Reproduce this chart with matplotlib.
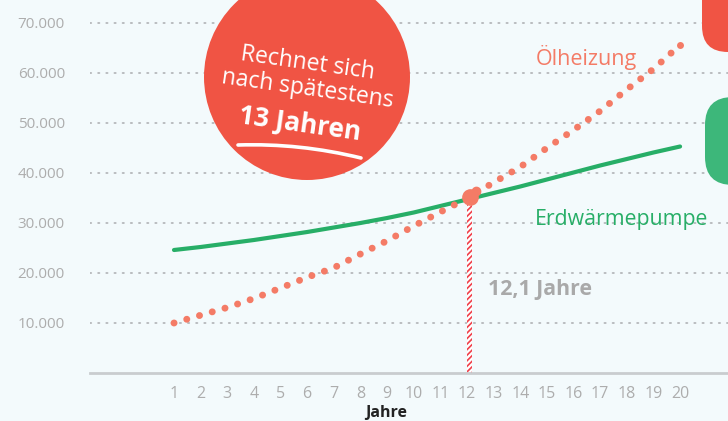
import matplotlib
matplotlib.use("Agg")
import matplotlib.pyplot as plt
from matplotlib.patches import Circle, FancyBboxPatch, Rectangle, PathPatch
from matplotlib.transforms import IdentityTransform
from matplotlib.path import Path

plt.rcParams['font.family'] = ['Open Sans', 'DejaVu Sans']
plt.rcParams['hatch.color'] = "#f0404a"
plt.rcParams['hatch.linewidth'] = 1.2

years = list(range(1, 21))
oil = [10000, 11560, 13100, 14900, 17000, 19140, 21040, 23800, 26440, 29400,
       32200, 34900, 38100, 41200, 45000, 48600, 52400, 56700, 60800, 65600]
heatpump = [24600, 25200, 25900, 26600, 27400, 28200, 29100, 30000, 31000, 32100,
            33400, 34700, 36000, 37300, 38700, 40100, 41500, 42800, 44100, 45300]
yticks = [10000, 20000, 30000, 40000, 50000, 60000, 70000]
ytick_labels = ["10.000", "20.000", "30.000", "40.000", "50.000", "60.000", "70.000"]
break_even_year = 12.1
break_even_value = 35200

BG = "#f3fafc"
RED = "#f05444"
OIL = "#f47b66"
GREEN = "#27ae67"
GRID = "#b9bcbf"
TICK = "#adadad"

W, H = 728, 421
fig = plt.figure(figsize=(W / 100, H / 100), dpi=100, facecolor=BG)
ax = fig.add_axes([90 / W, 48 / H, 1 - 90 / W, 373 / H])
ax.set_facecolor(BG)

ax.set_xlim(-2.154, 21.80)
ax.set_ylim(0, 74600)

for v in yticks:
    ax.axhline(v, color=GRID, lw=1.4, linestyle=(0, (0.6, 3.6)), dash_capstyle='round', zorder=1)

ax.plot(years, heatpump, color=GREEN, lw=3.0, solid_capstyle='round', zorder=3)
ax.plot(years, oil, color=OIL, lw=5.0, linestyle=(0, (0.01, 1.9)),
        dash_capstyle='round', zorder=4)
ax.plot([years[-1]], [oil[-1]], 'o', color=OIL, ms=5.0, mew=0, zorder=4)

# hatched vertical marker line
ax.add_patch(Rectangle((break_even_year - 0.09, 0), 0.18, break_even_value,
                       facecolor="white", edgecolor="#f0404a", hatch="//////",
                       lw=0, zorder=2))
ax.plot([break_even_year], [break_even_value], 'o', color=OIL, ms=11, zorder=6)
ax.plot([break_even_year + 0.25], [break_even_value + 1200], 'o', color=OIL, ms=6, zorder=6)

ax.set_yticks(yticks)
ax.set_yticklabels(ytick_labels)
ax.set_xticks(years)
ax.set_xticklabels([str(y) for y in years])
ax.tick_params(axis='y', length=0, pad=18, labelsize=11, labelcolor=TICK)
ax.tick_params(axis='x', length=0, pad=9, labelsize=11.5, labelcolor=TICK)
for s in ['top', 'right', 'left']:
    ax.spines[s].set_visible(False)
ax.spines['bottom'].set_color("#c9cccf")
ax.spines['bottom'].set_linewidth(2)


def px(x, y):
    return x / W, 1 - y / H


fig.text(*px(386, 413), "Jahre", ha='center', va='center', fontsize=11.5,
         fontweight='bold', color="#222222")
fig.text(*px(586, 57), "Ölheizung", ha='center', va='center', fontsize=15.5, color=OIL)
fig.text(*px(622, 220), "Erdwärmepumpe", ha='center', va='center', fontsize=15.3, color=GREEN)
fig.text(*px(540, 289), "12,1 Jahre", ha='center', va='center', fontsize=15.3,
         fontweight='bold', color="#a9a9a9")

# big red circle
fig.patches.append(Circle((307, H - 77), 103, transform=IdentityTransform(),
                          facecolor=RED, edgecolor='none', zorder=10))
rot = -8
fig.text(*px(308, 63), "Rechnet sich", ha='center', va='center', fontsize=16.5,
         color='white', rotation=rot, rotation_mode='anchor', zorder=11)
fig.text(*px(307, 89), "nach spätestens", ha='center', va='center', fontsize=16.5,
         color='white', rotation=rot, rotation_mode='anchor', zorder=11)
fig.text(*px(300, 124), "13 Jahren", ha='center', va='center', fontsize=19,
         fontweight='bold', color='white', rotation=rot, rotation_mode='anchor', zorder=11)
verts = [(238, H - 145), (300, H - 143), (361, H - 158)]
fig.patches.append(PathPatch(Path(verts, [Path.MOVETO, Path.CURVE3, Path.CURVE3]),
                             transform=IdentityTransform(), facecolor='none',
                             edgecolor='white', lw=2.6, capstyle='round', zorder=11))

# rounded boxes at right edge
fig.patches.append(FancyBboxPatch((702 + 26, H - 52 + 26), 100, 100,
                                  boxstyle="round,pad=26", transform=IdentityTransform(),
                                  facecolor=RED, edgecolor='none', zorder=10))
fig.patches.append(FancyBboxPatch((705 + 28, H - 185 + 28), 100, 88 - 56,
                                  boxstyle="round,pad=28", transform=IdentityTransform(),
                                  facecolor="#3db77a", edgecolor='none', zorder=10))

fig.savefig("out.png", dpi=100, facecolor=BG)
